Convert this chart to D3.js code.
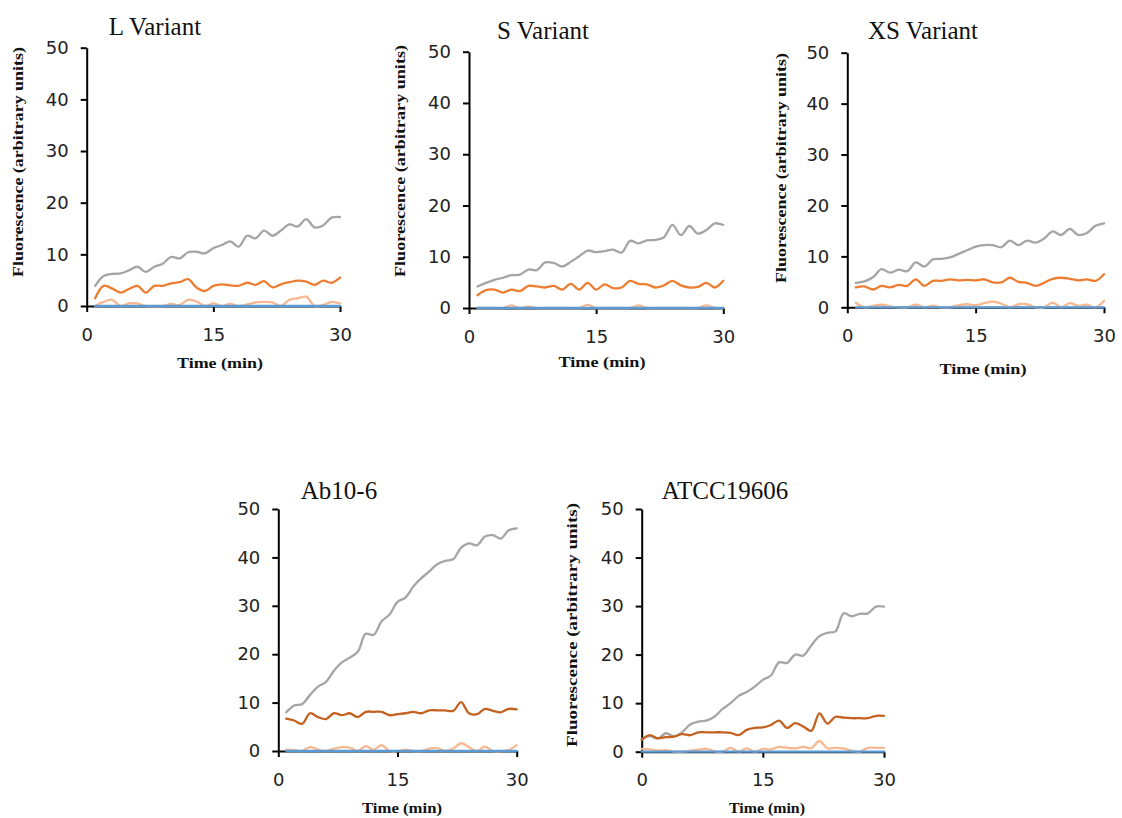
<!DOCTYPE html>
<html><head><meta charset="utf-8">
<script src="https://cdn.jsdelivr.net/npm/d3@7"></script>
<style>body{margin:0;background:#fff} svg{display:block}</style>
</head><body><svg id="c" width="1122" height="818"></svg>
<script>
// ---- data ----
const timeA = [1,2,3,4,5,6,7,8,9,10,11,12,13,14,15,16,17,18,19,20,21,22,23,24,25,26,27,28,29,30];
const timeB = [0,1,2,3,4,5,6,7,8,9,10,11,12,13,14,15,16,17,18,19,20,21,22,23,24,25,26,27,28,29,30];
const yTicks = [0,10,20,30,40,50];
const xTicks = [0,15,30];

const lGrey   = [3.9,5.8,6.2,6.3,6.9,7.6,6.6,7.6,8.2,9.5,9.2,10.4,10.5,10.2,11.2,11.8,12.5,11.5,13.6,13.1,14.6,13.6,14.6,15.8,15.4,16.8,15.2,15.6,17.1,17.2];
const lOrange = [1.5,3.9,3.4,2.6,3.3,3.9,2.6,3.9,3.9,4.4,4.6,5.2,3.6,2.9,3.9,4.2,4.0,3.9,4.5,4.1,4.8,3.6,4.2,4.6,4.9,4.7,4.1,4.9,4.5,5.5];
const lPeach  = [0,0.8,1.2,0,0.5,0.5,0,0,0,0.4,0.2,1.2,0.9,0,0.5,0,0.4,0,0.3,0.7,0.8,0.7,0,1.2,1.5,1.8,0,0.2,0.8,0.5];
const lBlue   = [0,0,0,0,0,0,0,0,0,0,0,0,0,0,0,0,0,0,0,0,0,0,0,0,0,0,0,0,0,0];

const sGrey   = [4.2,4.9,5.5,5.9,6.4,6.5,7.5,7.4,8.9,8.8,8.1,9.0,10.1,11.2,10.9,11.1,11.4,10.8,13.1,12.6,13.2,13.3,13.8,16.2,14.2,16.0,14.5,15.2,16.5,16.2];
const sOrange = [2.5,3.5,3.6,3.0,3.6,3.3,4.3,4.2,4.0,4.3,3.6,4.7,3.6,4.9,3.6,4.6,3.9,4.0,5.3,4.7,4.6,4.0,4.4,5.3,4.4,4.0,4.1,4.9,4.0,5.3];
const sPeach  = [0,0,0,0,0.5,0,0.3,0,0,0,0,0,0,0.6,0,0,0,0,0,0.5,0,0,0,0,0,0,0,0.5,0,0];
const sBlue   = [0,0,0,0,0,0,0,0,0,0,0,0,0,0,0,0,0,0,0,0,0,0,0,0,0,0,0,0,0,0];

const xsGrey   = [4.8,5.1,5.9,7.5,6.8,7.4,7.1,8.8,8.0,9.4,9.5,9.8,10.5,11.2,11.9,12.2,12.2,11.8,13.1,12.2,13.1,12.7,13.5,14.9,14.2,15.4,14.2,14.6,16.0,16.5];
const xsOrange = [3.9,4.1,3.5,4.2,3.9,4.4,4.2,5.5,4.2,5.2,5.2,5.5,5.3,5.4,5.3,5.5,4.9,4.9,5.8,5.0,4.8,4.2,4.8,5.6,5.8,5.6,5.3,5.5,5.2,6.5];
const xsPeach  = [0.9,0,0.3,0.5,0.2,0,0,0.5,0,0.3,0,0,0.4,0.6,0.4,0.8,1.1,0.7,0,0.6,0.6,0,0,0.9,0,0.8,0.3,0.5,0,1.3];
const xsBlue   = [0,0,0,0,0,0,0,0,0,0,0,0,0,0,0,0,0,0,0,0,0,0,0,0,0,0,0,0,0,0];

const abGrey  = [8.0,9.4,9.7,11.6,13.3,14.3,16.6,18.3,19.3,20.5,24.2,24.0,26.8,28.2,30.8,31.7,34.0,35.7,37.1,38.6,39.3,39.6,42.0,42.9,42.5,44.3,44.6,43.9,45.6,46.0];
const abBrown = [6.7,6.3,5.6,7.8,7.0,6.6,7.8,7.4,7.8,7.0,8.1,8.1,8.1,7.4,7.6,7.8,8.1,7.8,8.4,8.4,8.4,8.3,10.1,7.8,7.6,8.7,8.3,8.0,8.7,8.6];
const abPeach = [0.3,0.2,0,0.8,0.3,0,0.5,0.8,0.7,0,1.0,0.3,1.2,0,0,0.3,0,0,0.5,0.6,0,0.5,1.6,0.8,0,0.9,0,0,0.2,1.2];
const abBlue  = [0,0,0,0,0,0,0,0,0,0,0,0,0,0,0,0,0,0,0,0,0,0,0,0,0,0,0,0,0,0];

const atGrey  = [2.5,3.2,2.7,3.8,3.2,4.0,5.6,6.2,6.4,7.2,8.8,10.0,11.5,12.3,13.4,14.8,15.7,18.4,18.3,20.0,19.8,21.9,23.8,24.5,24.8,28.5,27.9,28.4,28.5,29.9,29.9];
const atBrown = [2.5,3.4,2.8,3.0,3.1,3.6,3.4,4.0,4.0,4.0,4.0,3.9,3.4,4.5,4.9,5.0,5.5,6.4,4.9,5.9,5.2,4.3,7.9,5.8,7.2,7.0,6.9,6.9,6.9,7.4,7.4];
const atPeach = [0.6,0.5,0.2,0.3,0,0,0.2,0.4,0.6,0.1,0,0.8,0,0.7,0,0.6,0.5,1.0,0.8,0.7,1.0,0.7,2.2,0.7,0.8,0.7,0.2,0,0.8,0.8,0.8];
const atBlue  = [0,0,0,0,0,0,0,0,0,0,0,0,0,0,0,0,0,0,0,0,0,0,0,0,0,0,0,0,0,0,0];

const titles = ["L Variant","S Variant","XS Variant","Ab10-6","ATCC19606"];
const yLabelText = "Fluorescence (arbitrary units)";
const xLabelText = "Time (min)";

// ---- layout / style ----
const C = {grey:"#A5A5A5", orange:"#ED7D31", brown:"#C5611F", peach:"#F6B890", blue:"#5B9BD5"};
const panels = [
  {title:titles[0], time:timeA, series:[lGrey,lOrange,lPeach,lBlue], colors:[C.grey,C.orange,C.peach,C.blue],
   x0:86.7, x1:340, y0:306, y1:47.7, tx:155, ty:35, yl:{x:23,y:162,len:230}, xl:{x:220,y:368,len:86}},
  {title:titles[1], time:timeA, series:[sGrey,sOrange,sPeach,sBlue], colors:[C.grey,C.orange,C.peach,C.blue],
   x0:469, x1:723.3, y0:308, y1:51.7, tx:543, ty:39, yl:{x:405,y:161,len:232}, xl:{x:602,y:367,len:87}},
  {title:titles[2], time:timeA, series:[xsGrey,xsOrange,xsPeach,xsBlue], colors:[C.grey,C.orange,C.peach,C.blue],
   x0:847.3, x1:1104, y0:307.3, y1:52.7, tx:923, ty:39, yl:{x:786,y:168,len:230}, xl:{x:983,y:374,len:87}},
  {title:titles[3], time:timeA, series:[abGrey,abBrown,abPeach,abBlue], colors:[C.grey,C.brown,C.peach,C.blue],
   x0:278.3, x1:516.7, y0:751, y1:509, tx:339, ty:499, yl:null, xl:{x:402,y:813,len:80}},
  {title:titles[4], time:timeB, series:[atGrey,atBrown,atPeach,atBlue], colors:[C.grey,C.brown,C.peach,C.blue],
   x0:641.7, x1:884, y0:751.7, y1:509, tx:725, ty:499, yl:{x:577,y:625,len:244}, xl:{x:767,y:813,len:76}}
];

const svg = d3.select("#c");

panels.forEach(p => {
  const x = d3.scaleLinear().domain([0,30]).range([p.x0,p.x1]);
  const y = d3.scaleLinear().domain([0,50]).range([p.y0,p.y1]);
  const g = svg.append("g");

  // title
  g.append("text").attr("x",p.tx).attr("y",p.ty).attr("text-anchor","middle")
    .style("font-family","'Liberation Serif','Times New Roman',serif").style("font-size","25px").attr("fill","#111")
    .text(p.title);

  // y axis
  const ya = g.append("g").attr("transform",`translate(${p.x0},0)`)
    .call(d3.axisLeft(y).tickValues(yTicks).tickSize(6).tickSizeOuter(0).tickPadding(12));
  // x axis
  const xa = g.append("g").attr("transform",`translate(0,${p.y0})`)
    .call(d3.axisBottom(x).tickValues(xTicks).tickSize(6).tickSizeOuter(0).tickPadding(16));
  [ya,xa].forEach(a => {
    a.select(".domain").attr("stroke","#000").attr("stroke-width",2);
    a.selectAll(".tick line").attr("stroke","#000").attr("stroke-width",2);
    a.selectAll(".tick text").attr("fill","#222")
      .style("font-family","'DejaVu Sans',Verdana,sans-serif").style("font-size","18px");
  });

  // lines
  const line = d3.line().curve(d3.curveCatmullRom.alpha(0.5));
  p.series.forEach((s,i) => {
    g.append("path")
      .attr("d", line(s.map((v,k) => [x(p.time[k]), y(v)])))
      .attr("fill","none").attr("stroke",p.colors[i]).attr("stroke-width",2.3)
      .attr("stroke-linejoin","round").attr("stroke-linecap","round");
  });

  // axis labels
  if (p.yl) {
    g.append("text").attr("transform",`translate(${p.yl.x},${p.yl.y}) rotate(-90)`)
      .attr("text-anchor","middle").attr("textLength",p.yl.len).attr("lengthAdjust","spacingAndGlyphs")
      .style("font-family","'Liberation Serif','Times New Roman',serif").style("font-weight","bold")
      .style("font-size","14px").attr("fill","#111").text(yLabelText);
  }
  g.append("text").attr("x",p.xl.x).attr("y",p.xl.y).attr("text-anchor","middle")
    .attr("textLength",p.xl.len).attr("lengthAdjust","spacingAndGlyphs")
    .style("font-family","'Liberation Serif','Times New Roman',serif").style("font-weight","bold")
    .style("font-size","15px").attr("fill","#111").text(xLabelText);
});
</script></body></html>
